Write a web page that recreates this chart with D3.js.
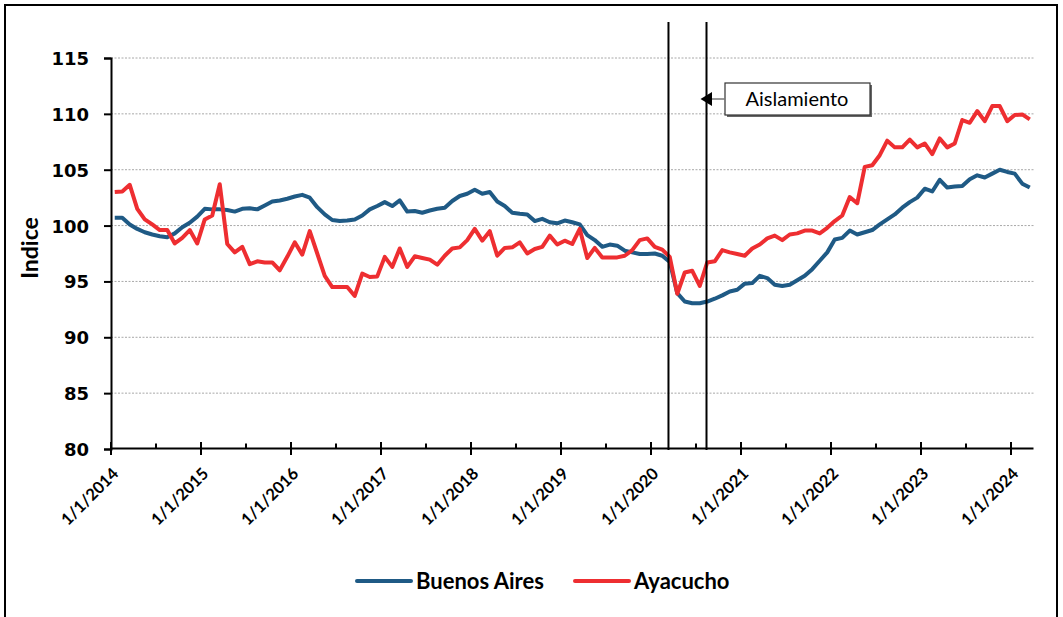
<!DOCTYPE html>
<html>
<head>
<meta charset="utf-8">
<script src="https://cdn.jsdelivr.net/npm/d3@7"></script>
<style>
  body { margin: 0; background: #fff; }
  svg { display: block; }
</style>
</head>
<body>
<script>
"use strict";
// categorias mensuales: ene 2014 .. mar 2024
const categories = d3.timeMonth.range(new Date(2014, 0, 1), new Date(2024, 3, 1)).map(d3.timeFormat("%-m/%-d/%Y"));
const tickLabels = ["1/1/2014", "1/1/2015", "1/1/2016", "1/1/2017", "1/1/2018", "1/1/2019",
                    "1/1/2020", "1/1/2021", "1/1/2022", "1/1/2023", "1/1/2024"];
const yTicks = [80, 85, 90, 95, 100, 105, 110, 115];

const buenosAires = [
  100.7, 100.7, 100.1, 99.7, 99.4, 99.2, 99.05, 98.95, 99.3, 99.85, 100.25, 100.8,
  101.5, 101.45, 101.45, 101.4, 101.25, 101.5, 101.55, 101.45, 101.8, 102.15, 102.25, 102.4,
  102.6, 102.75, 102.5, 101.65, 101.0, 100.5, 100.4, 100.45, 100.55, 100.9, 101.45, 101.75,
  102.1, 101.75, 102.25, 101.25, 101.3, 101.15, 101.35, 101.5, 101.6, 102.2, 102.65, 102.85,
  103.2, 102.85, 103.0, 102.15, 101.75, 101.15, 101.05, 101.0, 100.4, 100.6, 100.3, 100.2,
  100.45, 100.3, 100.1, 99.15, 98.7, 98.1, 98.3, 98.2, 97.75, 97.6, 97.45, 97.45,
  97.5, 97.3, 96.75, 93.95, 93.2, 93.05, 93.05, 93.2, 93.45, 93.75, 94.1, 94.25,
  94.8, 94.85, 95.5, 95.3, 94.7, 94.6, 94.7, 95.1, 95.5, 96.1, 96.85, 97.6,
  98.75, 98.9, 99.55, 99.2, 99.4, 99.6, 100.1, 100.55, 101.0, 101.6, 102.1, 102.5,
  103.3, 103.05, 104.1, 103.4, 103.5, 103.55, 104.15, 104.5, 104.3, 104.65, 105.0, 104.8,
  104.65, 103.75, 103.4
];
const ayacucho = [
  103.0, 103.05, 103.65, 101.5, 100.55, 100.1, 99.6, 99.6, 98.4, 98.9, 99.6, 98.4,
  100.55, 100.9, 103.7, 98.35, 97.6, 98.1, 96.55, 96.8, 96.7, 96.7, 96.0, 97.2,
  98.5, 97.4, 99.5, 97.5, 95.5, 94.5, 94.5, 94.5, 93.7, 95.7, 95.4, 95.45,
  97.2, 96.3, 97.95, 96.3, 97.25, 97.1, 96.95, 96.5, 97.3, 97.95, 98.05, 98.7,
  99.7, 98.65, 99.5, 97.3, 98.0, 98.05, 98.5, 97.5, 97.9, 98.1, 99.1, 98.3,
  98.65, 98.35, 99.7, 97.1, 98.0, 97.15, 97.15, 97.15, 97.3, 97.8, 98.7, 98.85,
  98.1, 97.85, 97.2, 93.9, 95.8, 95.95, 94.6, 96.7, 96.8, 97.8, 97.6, 97.45,
  97.3, 97.95, 98.3, 98.85, 99.1, 98.7, 99.2, 99.3, 99.55, 99.55, 99.3, 99.8,
  100.4, 100.9, 102.55, 102.0, 105.25, 105.4, 106.3, 107.6, 107.0, 107.0, 107.7, 107.0,
  107.35, 106.4, 107.8, 107.0, 107.35, 109.45, 109.2, 110.25, 109.35, 110.7, 110.7, 109.35,
  109.9, 109.95, 109.5
];
// inicio y fin del aislamiento, en meses desde ene 2014
const aislamiento = [74.33, 79.4];

const series = [
  { name: "Buenos Aires", values: buenosAires, color: "#1f5a85" },
  { name: "Ayacucho", values: ayacucho, color: "#ee2e31" }
];

const width = 1063, height = 617;
let svg = d3.select("body").append("svg")
            .attr("width", width)
            .attr("height", height);

// marco exterior
svg.append("rect")
   .attr("x", 5).attr("y", 5)
   .attr("width", 1052).attr("height", 660)
   .attr("fill", "none")
   .attr("stroke", "#000")
   .attr("stroke-width", 2);

let x = d3.scaleBand()
          .domain(categories)
          .range([111, 1033.5])
          .padding(0);
let bw = x.bandwidth();
let xc = (i) => x(categories[i]) + bw / 2;

let y = d3.scaleLinear()
          .domain([80, 115])
          .range([449, 58]);

// grilla
svg.append("g")
   .selectAll("line")
   .data(yTicks.filter(t => t > 80))
   .enter()
   .append("line")
   .attr("x1", 111).attr("x2", 1033.5)
   .attr("y1", d => y(d)).attr("y2", d => y(d))
   .attr("stroke", "#a8a8a8")
   .attr("stroke-width", 1)
   .attr("stroke-dasharray", "2,1.5");

// eje Y
let yAxis = svg.append("g")
   .attr("transform", "translate(111,0)")
   .call(d3.axisLeft(y).tickValues(yTicks).tickSize(7).tickPadding(15));
yAxis.select(".domain").attr("stroke-width", 2);
yAxis.selectAll(".tick line").attr("stroke-width", 2);
yAxis.selectAll("text")
     .attr("font-family", "'DejaVu Sans', sans-serif")
     .attr("font-weight", "bold")
     .attr("font-size", "18px")
     .attr("fill", "#000")
     .attr("dy", "0.36em");

svg.append("text")
   .attr("transform", "translate(38,248) rotate(-90)")
   .attr("text-anchor", "middle")
   .attr("font-family", "Lato, sans-serif")
   .attr("font-weight", "bold")
   .attr("font-size", "23px")
   .text("Indice");

// eje X
let xAxisG = svg.append("g");
xAxisG.append("line")
      .attr("x1", 111).attr("x2", 1033.5)
      .attr("y1", 448.5).attr("y2", 448.5)
      .attr("stroke", "#000").attr("stroke-width", 2);
let tickIdx = d3.range(0, categories.length, 6);
xAxisG.selectAll(".xt")
      .data(tickIdx)
      .enter()
      .append("line")
      .attr("class", "xt")
      .attr("x1", i => x(categories[i])).attr("x2", i => x(categories[i]))
      .attr("y1", i => i % 12 === 0 ? 442 : 443.5)
      .attr("y2", i => i % 12 === 0 ? 455 : 448.5)
      .attr("stroke", "#000").attr("stroke-width", 2);
xAxisG.selectAll(".xl")
      .data(tickLabels)
      .enter()
      .append("text")
      .attr("class", "xl")
      .attr("transform", (d, i) => "translate(" + (xc(i * 12) - 4) + ",466) rotate(-45)")
      .attr("text-anchor", "end")
      .attr("dy", "0.75em")
      .attr("font-family", "Lato, sans-serif")
      .attr("font-weight", "bold")
      .attr("font-size", "16.5px")
      .text(d => d);

// lineas de series
let line = d3.line()
             .x((d, i) => xc(i))
             .y(d => y(d));
svg.append("g")
   .selectAll("path")
   .data(series)
   .enter()
   .append("path")
   .attr("d", d => line(d.values))
   .attr("fill", "none")
   .attr("stroke", d => d.color)
   .attr("stroke-width", 4)
   .attr("stroke-linejoin", "round");

// aislamiento
let xAt = (m) => x(categories[0]) + m * bw;
svg.append("g")
   .selectAll("line")
   .data(aislamiento)
   .enter()
   .append("line")
   .attr("x1", d => xAt(d)).attr("x2", d => xAt(d))
   .attr("y1", 22).attr("y2", 450)
   .attr("stroke", "#000").attr("stroke-width", 2);

let note = svg.append("g");
note.append("rect")
    .attr("x", 727).attr("y", 85)
    .attr("width", 145).attr("height", 32)
    .attr("fill", "#666");
note.append("rect")
    .attr("x", 725).attr("y", 83)
    .attr("width", 145).attr("height", 32)
    .attr("fill", "#fff")
    .attr("stroke", "#333")
    .attr("stroke-width", 1.2);
note.append("text")
    .attr("x", 797).attr("y", 106)
    .attr("text-anchor", "middle")
    .attr("font-family", "Lato, sans-serif")
    .attr("font-size", "20px")
    .text("Aislamiento");
note.append("line")
    .attr("x1", 711).attr("x2", 725)
    .attr("y1", 99).attr("y2", 99)
    .attr("stroke", "#777").attr("stroke-width", 1.5);
note.append("path")
    .attr("d", d3.line()([[xAt(aislamiento[1]) - 6, 99], [712, 92], [712, 106]]) + "Z")
    .attr("fill", "#000");

// leyenda
let legend = svg.append("g");
let legendX = [357, 575];
series.forEach((s, i) => {
  let g = legend.append("g").attr("transform", "translate(" + legendX[i] + ",581)");
  g.append("line")
   .attr("x1", 0).attr("x2", 54)
   .attr("y1", 0).attr("y2", 0)
   .attr("stroke", s.color).attr("stroke-width", 4)
   .attr("stroke-linecap", "round");
  g.append("text")
   .attr("x", 59).attr("y", 7.5)
   .attr("font-family", "Lato, sans-serif")
   .attr("font-weight", "bold")
   .attr("font-size", "22px")
   .text(s.name);
});
</script>
</body>
</html>
